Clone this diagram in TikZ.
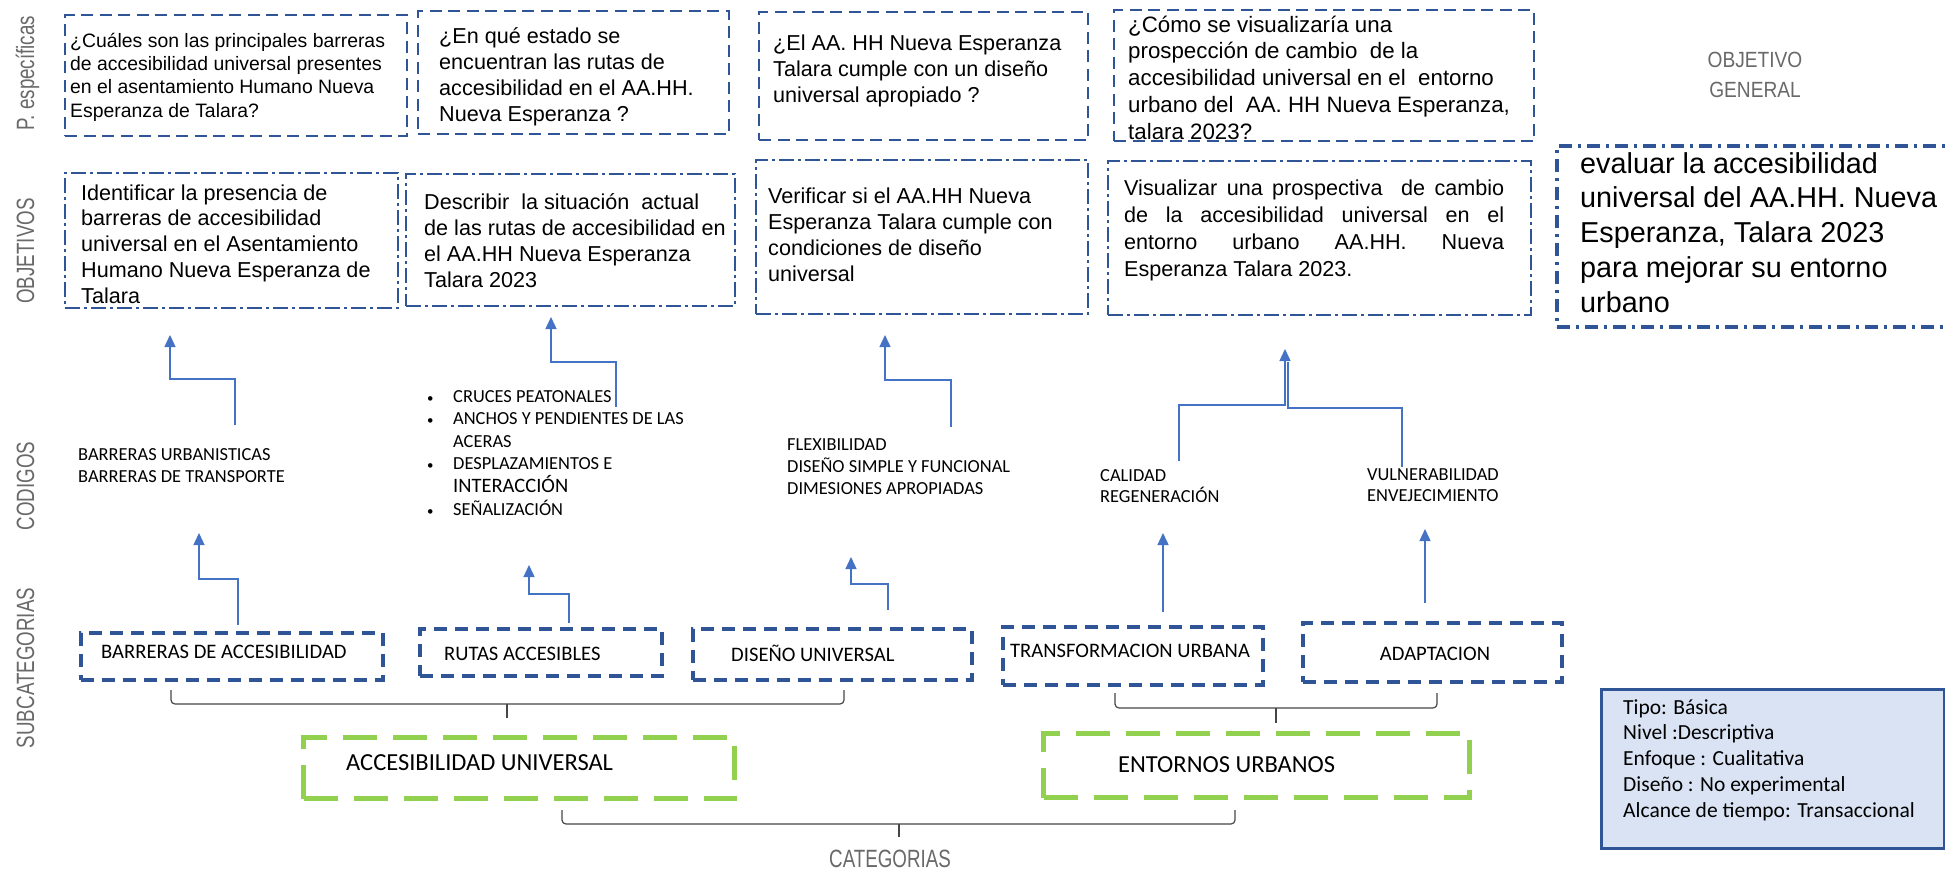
\documentclass[tikz,border=0pt]{standalone}
\usepackage{fontspec}
\setmainfont{Liberation Sans}
\newfontfamily\calfont{Carlito}
\newfontfamily\lblfont[FakeStretch=0.75]{Liberation Sans}
\newfontfamily\lblfontb[FakeStretch=0.87]{Liberation Sans}
\usetikzlibrary{arrows.meta}
\definecolor{boxblue}{RGB}{47,85,151}
\definecolor{arrowblue}{RGB}{68,114,196}
\definecolor{catgreen}{RGB}{146,208,80}
\definecolor{infofill}{RGB}{218,227,243}
\definecolor{labelgray}{RGB}{105,105,105}
\definecolor{bracegray}{RGB}{70,70,70}
\newcommand\fs[2]{\fontsize{#1pt}{#2pt}\selectfont}
\newcommand\txtblock[2]{\parbox[t]{#1pt}{\raggedright #2}}
\newcommand\bul{\makebox[28pt][l]{\hspace*{2pt}\scalebox{0.7}{•}}}
\begin{document}
\begin{tikzpicture}[x=1pt,y=-1pt,
  frame/.style={anchor=north west, inner sep=0pt},
  pebox/.style={frame, draw=boxblue, line width=2.2pt, dash pattern=on 12pt off 6.5pt},
  objbox/.style={frame, draw=boxblue, line width=2.2pt, dash pattern=on 15pt off 4pt on 3pt off 4pt},
  genbox/.style={frame, draw=boxblue, line width=3.5pt, dash pattern=on 13pt off 6pt on 3pt off 6pt},
  subbox/.style={frame, draw=boxblue, line width=3.5pt, dash pattern=on 13pt off 8pt},
  catbox/.style={frame, draw=catgreen, line width=5pt, dash pattern=on 34pt off 16pt},
  infobox/.style={frame, draw=boxblue, fill=infofill, line width=2.5pt},
  txt/.style={anchor=base west, inner sep=0pt, text=black},
  qtext/.style={txt, font=\fs{21.6}{26.3}},
  code/.style={txt, font=\calfont\fs{18.4}{22}},
  subtext/.style={txt, font=\calfont\fs{20.6}{24}},
  cattext/.style={txt, font=\calfont\fs{24.5}{28}},
  lbl/.style={inner sep=0pt, text=labelgray, font=\lblfont\fs{25}{30}},
  conn/.style={draw=arrowblue, line width=1.4pt},
  arr/.style={conn, -{Triangle[width=11pt,length=12pt]}},
  brace/.style={draw=bracegray, line width=1.2pt, rounded corners=4pt}
]
\useasboundingbox (0,0) rectangle (1945,873);
\fill[white] (0,0) rectangle (1945,873);

% row titles
\node[lbl, rotate=90, anchor=base] (lpe) at (34,73) {P. específicas};
\node[lbl, rotate=90, anchor=base] (lobj) at (34,251) {OBJETIVOS};
\node[lbl, rotate=90, anchor=base] (lcod) at (34,486) {CODIGOS};
\node[lbl, rotate=90, anchor=base] (lsub) at (34,668) {SUBCATEGORIAS};
\node[lbl, anchor=base] (lcat) at (890,867) {CATEGORIAS};
\node[lbl, anchor=base, font=\lblfontb\fs{22}{30}] (lgen) at (1755,67)
  {\parbox[t]{200pt}{\centering OBJETIVO\\GENERAL}};

% specific questions
\node[pebox, minimum width=342pt, minimum height=121pt] (pe1) at (64,14) {};
\node[txt, font=\fs{19.4}{23.4}] (pe1t) at (70,47) {\txtblock{340}{¿Cuáles son las principales barreras\\de accesibilidad universal presentes\\en el asentamiento Humano Nueva\\Esperanza de Talara?}};
\node[pebox, minimum width=311pt, minimum height=123pt] (pe2) at (417,10) {};
\node[qtext] (pe2t) at (439,43) {\txtblock{300}{¿En qué estado se\\encuentran las rutas de\\accesibilidad en el AA.HH.\\Nueva Esperanza ?}};
\node[pebox, minimum width=329pt, minimum height=128pt] (pe3) at (758,11) {};
\node[qtext] (pe3t) at (773,50) {\txtblock{320}{¿El AA. HH Nueva Esperanza\\Talara cumple con un diseño\\universal apropiado ?}};
\node[pebox, minimum width=420pt, minimum height=131pt] (pe4) at (1113,9) {};
\node[txt, font=\fs{22.3}{26.8}] (pe4t) at (1128,32) {\txtblock{420}{¿Cómo se visualizaría una\\prospección de cambio\ \ de la\\accesibilidad universal en el\ \ entorno\\urbano del\ \ AA. HH Nueva Esperanza,\\talara 2023?}};

% objectives
\node[objbox, minimum width=333pt, minimum height=135pt] (obj1) at (64,172) {};
\node[qtext, font=\fs{21.6}{25.8}] (obj1t) at (81,200) {\txtblock{320}{Identificar la presencia de\\barreras de accesibilidad\\universal en el Asentamiento\\Humano Nueva Esperanza de\\Talara}};
\node[objbox, minimum width=329pt, minimum height=132pt] (obj2) at (405,173) {};
\node[qtext] (obj2t) at (424,209) {\txtblock{320}{Describir\ \ la situación\ \ actual\\de las rutas de accesibilidad en\\el AA.HH Nueva Esperanza\\Talara 2023}};
\node[objbox, minimum width=332pt, minimum height=154pt] (obj3) at (755,159) {};
\node[qtext] (obj3t) at (768,203) {\txtblock{320}{Verificar si el AA.HH Nueva\\Esperanza Talara cumple con\\condiciones de diseño\\universal}};
\node[objbox, minimum width=423pt, minimum height=154pt] (obj4) at (1107,160) {};
\node[qtext, font=\fs{21.6}{27.3}] (obj4t) at (1124,195) {\txtblock{385}{\makebox[380pt][s]{Visualizar una prospectiva\ \ de cambio}\\\makebox[380pt][s]{de la accesibilidad universal en el}\\\makebox[380pt][s]{entorno urbano AA.HH. Nueva}\\Esperanza Talara 2023.}};
\node[genbox, minimum width=393pt, minimum height=181pt] (gen) at (1555,144) {};
\node[txt, font=\fs{28.8}{34.8}] (gent) at (1580,173) {\txtblock{380}{evaluar la accesibilidad\\universal del AA.HH. Nueva\\Esperanza, Talara 2023\\para mejorar su entorno\\urbano}};

% codes
\node[code] (cod1) at (78,460) {\txtblock{260}{BARRERAS URBANISTICAS\\BARRERAS DE TRANSPORTE}};
\node[code, font=\calfont\fs{18.4}{22.6}] (cod2) at (425,402) {\txtblock{300}{%
\bul CRUCES PEATONALES\\
\bul ANCHOS Y PENDIENTES DE LAS\\
\hspace*{28pt}ACERAS\\
\bul DESPLAZAMIENTOS E\\
\hspace*{28pt}{\fs{20.5}{22.6}INTERACCIÓN}\\
\bul SEÑALIZACIÓN}};
\node[code] (cod3) at (787,450) {\txtblock{260}{FLEXIBILIDAD\\DISEÑO SIMPLE Y FUNCIONAL\\DIMESIONES APROPIADAS}};
\node[code, font=\calfont\fs{18.4}{21}] (cod4) at (1100,481) {\txtblock{200}{CALIDAD\\REGENERACIÓN}};
\node[code, font=\calfont\fs{18.4}{21}] (cod5) at (1367,480) {\txtblock{200}{VULNERABILIDAD\\ENVEJECIMIENTO}};

% subcategories
\node[subbox, minimum width=302pt, minimum height=47pt] (sc1) at (79,631) {};
\node[subtext] (sc1t) at (101,658) {BARRERAS DE ACCESIBILIDAD};
\node[subbox, minimum width=242pt, minimum height=47pt] (sc2) at (418,627) {};
\node[subtext] (sc2t) at (444,660) {RUTAS ACCESIBLES};
\node[subbox, minimum width=279pt, minimum height=51pt] (sc3) at (691,627) {};
\node[subtext] (sc3t) at (731,661) {DISEÑO UNIVERSAL};
\node[subbox, minimum width=260pt, minimum height=58pt] (sc4) at (1001,625) {};
\node[subtext] (sc4t) at (1010,657) {TRANSFORMACION URBANA};
\node[subbox, minimum width=259pt, minimum height=59pt] (sc5) at (1301,621) {};
\node[subtext, anchor=base] (sc5t) at (1435,660) {ADAPTACION};

% categories
\node[catbox, minimum width=431pt, minimum height=61pt] (cat1) at (301,735) {};
\node[cattext] (cat1t) at (346,770) {ACCESIBILIDAD UNIVERSAL};
\node[catbox, minimum width=426pt, minimum height=64pt] (cat2) at (1041,731) {};
\node[cattext] (cat2t) at (1118,772) {ENTORNOS URBANOS};

% research type
\node[infobox, minimum width=343pt, minimum height=159pt] (info) at (1600,688) {};
\node[txt, font=\calfont\fs{21.5}{25.8}] (infot) at (1623,714) {\txtblock{320}{Tipo: Básica\\Nivel :Descriptiva\\Enfoque : Cualitativa\\Diseño : No experimental\\Alcance de tiempo: Transaccional}};

% arrows: codes -> objectives
\coordinate (a1s) at (235,425); \coordinate (a1e) at (170,335);
\coordinate (a2s) at (616,407); \coordinate (a2e) at (551,317);
\coordinate (a3s) at (951,427); \coordinate (a3e) at (885,335);
\coordinate (a4l) at (1179,461); \coordinate (a4e) at (1285,349);
\coordinate (a4r) at (1402,467); \coordinate (a4m) at (1288,362);
\draw[arr] (a1s) -- ++(0,-46) -| (a1e);
\draw[arr] (a2s) -- ++(0,-45) -| (a2e);
\draw[arr] (a3s) -- ++(0,-47) -| (a3e);
\draw[arr] (a4l) -- ++(0,-56) -| (a4e);
\draw[conn] (a4r) -- ++(0,-59) -| (a4m);

% arrows: subcategories -> codes
\coordinate (b1s) at (238,625); \coordinate (b1e) at (199,533);
\coordinate (b2s) at (569,623); \coordinate (b2e) at (529,565);
\coordinate (b3s) at (888,610); \coordinate (b3e) at (851,557);
\coordinate (b4s) at (1163,612); \coordinate (b4e) at (1163,533);
\coordinate (b5s) at (1425,603); \coordinate (b5e) at (1425,529);
\draw[arr] (b1s) -- ++(0,-46) -| (b1e);
\draw[arr] (b2s) -- ++(0,-29) -| (b2e);
\draw[arr] (b3s) -- ++(0,-26) -| (b3e);
\draw[arr] (b4s) -- (b4e);
\draw[arr] (b5s) -- (b5e);

% braces grouping subcategories and categories
\coordinate (br1l) at (171,690); \coordinate (br1r) at (844,690); \coordinate (br1t) at (507,718);
\coordinate (br2l) at (1115,693); \coordinate (br2r) at (1437,693); \coordinate (br2t) at (1276,723);
\coordinate (br3l) at (562,810); \coordinate (br3r) at (1235,810); \coordinate (br3t) at (899,837);
\draw[brace] (br1l) -- (171,704) -- (844,704) -- (br1r);
\draw[brace] (507,704) -- (br1t);
\draw[brace] (br2l) -- (1115,708) -- (1437,708) -- (br2r);
\draw[brace] (1276,708) -- (br2t);
\draw[brace] (br3l) -- (562,824) -- (1235,824) -- (br3r);
\draw[brace] (899,824) -- (br3t);
\end{tikzpicture}
\end{document}
